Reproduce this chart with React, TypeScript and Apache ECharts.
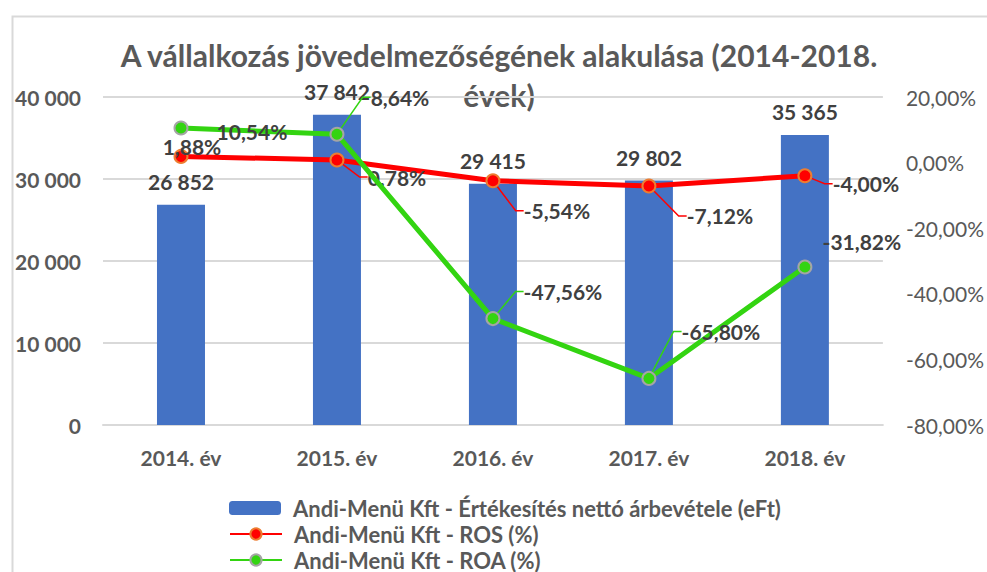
import React, { useEffect, useRef } from "react";
import * as echarts from "echarts";

const categories = ["2014. év", "2015. év", "2016. év", "2017. év", "2018. év"];
const revenue = [26852, 37842, 29415, 29802, 35365];
const ros = [1.88, 0.78, -5.54, -7.12, -4.0];
const roa = [10.54, 8.64, -47.56, -65.8, -31.82];
const seriesNames = [
  "Andi-Menü Kft - Értékesítés nettó árbevétele (eFt)",
  "Andi-Menü Kft - ROS (%)",
  "Andi-Menü Kft - ROA (%)",
];
const titleText = "A vállalkozás jövedelmezőségének alakulása (2014-2018.\névek)";

// label callout offsets (layout only)
const rosOffsets = [[11, -10], [60, 17], [64, 30], [71, 30], [61, 8]];
const roaOffsets = [[71, 3], [63, -37], [70, -27], [72, -47], [57, -25]];
const rosLeader = [false, true, true, true, true];
const roaLeader = [false, true, true, true, false];

const FONT = "Lato, 'Open Sans', sans-serif";
const TXT = "#595959";
const LBL = "#404040";

const fmtThousands = (v: number) =>
  String(Math.round(v)).replace(/\B(?=(\d{3})+(?!\d))/g, " ");
const fmtPct = (v: number) => v.toFixed(2).replace(".", ",") + "%";

export default function App() {
  const ref = useRef<HTMLDivElement>(null);
  useEffect(() => {
    if (!ref.current) return;
    const chart = echarts.init(ref.current, null, { renderer: "svg" });
    const lineLabel = {
      show: true,
      position: "inside",
      fontFamily: FONT,
      fontSize: 21,
      fontWeight: "bold",
      color: LBL,
      formatter: (p: any) => fmtPct(p.value),
    };
    const legendRow = (name: string, top: number) => ({
      orient: "horizontal",
      left: 229,
      top,
      padding: 0,
      itemWidth: 52,
      itemHeight: 14,
      data: [name],
      textStyle: {
        fontFamily: FONT,
        fontSize: 22,
        fontWeight: "bold",
        color: TXT,
        padding: [0, 0, 0, 7],
      },
    });
    chart.setOption({
      animation: false,
      backgroundColor: "#ffffff",
      textStyle: { fontFamily: FONT },
      graphic: [
        {
          type: "rect",
          left: 10,
          top: 14,
          z: -10,
          shape: { width: 1000, height: 600 },
          style: { fill: "none", stroke: "#d9d9d9", lineWidth: 2 },
        },
        {
          type: "text",
          x: 499,
          y: 35,
          z: 0,
          style: {
            text: titleText,
            textAlign: "center",
            fontFamily: FONT,
            fontSize: 30,
            fontWeight: "bold",
            fill: TXT,
            lineHeight: 40,
          },
        },
      ],
      legend: [
        legendRow(seriesNames[0], 497),
        legendRow(seriesNames[1], 523),
        legendRow(seriesNames[2], 549),
      ],
      grid: { left: 103, right: 103, top: 97, bottom: 147 },
      xAxis: {
        type: "category",
        data: categories,
        axisTick: { show: false },
        axisLine: { lineStyle: { color: "#d9d9d9", width: 2 } },
        axisLabel: {
          fontFamily: FONT,
          fontSize: 21,
          fontWeight: "bold",
          color: TXT,
          margin: 22,
        },
      },
      yAxis: [
        {
          type: "value",
          min: 0,
          max: 40000,
          interval: 10000,
          axisLine: { show: false },
          axisTick: { show: false },
          splitLine: { lineStyle: { color: "#d9d9d9", width: 2 } },
          axisLabel: {
            fontFamily: FONT,
            fontSize: 21,
            fontWeight: "bold",
            color: TXT,
            margin: 22,
            formatter: (v: number) => fmtThousands(v),
          },
        },
        {
          type: "value",
          min: -80,
          max: 20,
          interval: 20,
          axisLine: { show: false },
          axisTick: { show: false },
          splitLine: { show: false },
          axisLabel: {
            fontFamily: FONT,
            fontSize: 21,
            color: TXT,
            margin: 23,
            formatter: (v: number) => fmtPct(v),
          },
        },
      ],
      series: [
        {
          name: seriesNames[0],
          type: "bar",
          data: revenue,
          barWidth: 48,
          itemStyle: { color: "#4472C4" },
          label: {
            show: true,
            position: "top",
            distance: 13,
            fontFamily: FONT,
            fontSize: 21,
            fontWeight: "bold",
            color: LBL,
            formatter: (p: any) => fmtThousands(p.value),
          },
          z: 1,
        },
        {
          name: seriesNames[1],
          type: "line",
          yAxisIndex: 1,
          data: ros.map((v, i) => ({
            value: v,
            labelLine: { show: rosLeader[i] },
          })),
          symbol: "circle",
          symbolSize: 13,
          lineStyle: { color: "#FF0000", width: 5 },
          itemStyle: { color: "#FF0000", borderColor: "#ED7D31", borderWidth: 2 },
          label: lineLabel,
          labelLine: { show: true, lineStyle: { color: "#FF0000", width: 1.5 }, length2: 8 },
          labelLayout: (p: any) => ({
            dx: rosOffsets[p.dataIndex][0],
            dy: rosOffsets[p.dataIndex][1],
          }),
          z: 3,
        },
        {
          name: seriesNames[2],
          type: "line",
          yAxisIndex: 1,
          data: roa.map((v, i) => ({
            value: v,
            labelLine: { show: roaLeader[i] },
          })),
          symbol: "circle",
          symbolSize: 13,
          lineStyle: { color: "#33D411", width: 5 },
          itemStyle: { color: "#33D411", borderColor: "#A5A5A5", borderWidth: 2 },
          label: lineLabel,
          labelLine: { show: true, lineStyle: { color: "#33D411", width: 1.5 }, length2: 8 },
          labelLayout: (p: any) => ({
            dx: roaOffsets[p.dataIndex][0],
            dy: roaOffsets[p.dataIndex][1],
          }),
          z: 4,
        },
      ],
    });
    return () => chart.dispose();
  }, []);
  return (
    <div
      ref={ref}
      style={{ position: "fixed", left: 0, top: 0, width: 987, height: 572 }}
    />
  );
}
